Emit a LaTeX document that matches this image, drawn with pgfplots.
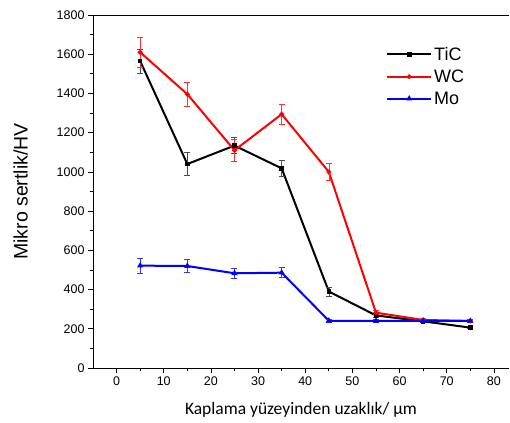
\documentclass[border=0pt]{standalone}
\usepackage{fontspec}
\setmainfont{Liberation Sans}
\newfontfamily\calibri{Carlito}
\usepackage{pgfplots}
\pgfplotsset{compat=1.18}
\begin{document}
\begin{tikzpicture}
\begin{axis}[
    scale only axis,
    width=416pt, height=353pt,
    xmin=-5, xmax=83.2,
    ymin=0, ymax=1800,
    axis x line*=box, axis y line*=left,
    xtick={0,10,...,80},
    ytick={0,200,...,1800},
    minor x tick num=1,
    minor y tick num=1,
    xtick pos=left, ytick pos=left,
    tick align=outside,
    major tick length=5pt,
    minor tick length=3pt,
    tick style={black, line width=0.7pt},
    axis line style={line width=0.9pt},
    ticklabel style={font=\fontsize{12.5}{14}\selectfont},
    /pgf/number format/assume math mode=true,
    /pgf/number format/1000 sep={},
    xlabel={\calibri Kaplama yüzeyinden uzaklık/ µm},
    xlabel style={font=\fontsize{17.5}{20}\selectfont, yshift=-10pt},
    ylabel={Mikro sertlik/HV},
    ylabel style={font=\fontsize{19.5}{22}\selectfont, yshift=22pt},
    legend style={draw=none, fill=none, at={(0.702,0.918)}, anchor=north west,
        font=\fontsize{18}{20}\selectfont, row sep=4pt, inner sep=1pt},
    legend cell align=left,
    legend image code/.code={
        \draw[mark repeat=2, mark phase=2, #1]
            plot coordinates {(0pt,0pt) (22pt,0pt) (44pt,0pt)};},
    every axis plot/.append style={line width=2pt},
    error bars/error bar style={line width=0.6pt},
    error bars/error mark options={rotate=90, mark size=3pt, line width=0.6pt},
]
\coordinate (sw) at (rel axis cs:0,0);
\coordinate (ne) at (rel axis cs:1,1);
\addplot[black, mark=square*, mark size=1.3pt,
    error bars/.cd, y dir=both, y explicit,
    error bar style={black!70}]
coordinates {
    (5,1565) +- (0,62)
    (15,1040) +- (0,58)
    (25,1134) +- (0,40)
    (35,1018) +- (0,40)
    (45,390) +- (0,22)
    (55,268) +- (0,8)
    (65,238) +- (0,6)
    (75,206) +- (0,6)
};
\addlegendentry{TiC}
\addplot[red, mark=*, mark size=1.3pt,
    error bars/.cd, y dir=both, y explicit,
    error bar style={red!80}]
coordinates {
    (5,1610) +- (0,75)
    (15,1396) +- (0,62)
    (25,1110) +- (0,55)
    (35,1294) +- (0,52)
    (45,1000) +- (0,44)
    (55,282) +- (0,10)
    (65,245) +- (0,6)
    (75,240) +- (0,6)
};
\addlegendentry{WC}
\addplot[blue, mark=triangle*, mark size=1.6pt,
    error bars/.cd, y dir=both, y explicit,
    error bar style={blue!80}]
coordinates {
    (5,522) +- (0,38)
    (15,520) +- (0,34)
    (25,483) +- (0,27)
    (35,486) +- (0,25)
    (45,241) +- (0,6)
    (55,240) +- (0,6)
    (65,240) +- (0,6)
    (75,240) +- (0,6)
};
\addlegendentry{Mo}
\end{axis}
\pgfresetboundingbox
\path ([shift={(-93pt,-54pt)}]sw) rectangle ([shift={(1pt,15pt)}]ne);
\end{tikzpicture}
\end{document}
